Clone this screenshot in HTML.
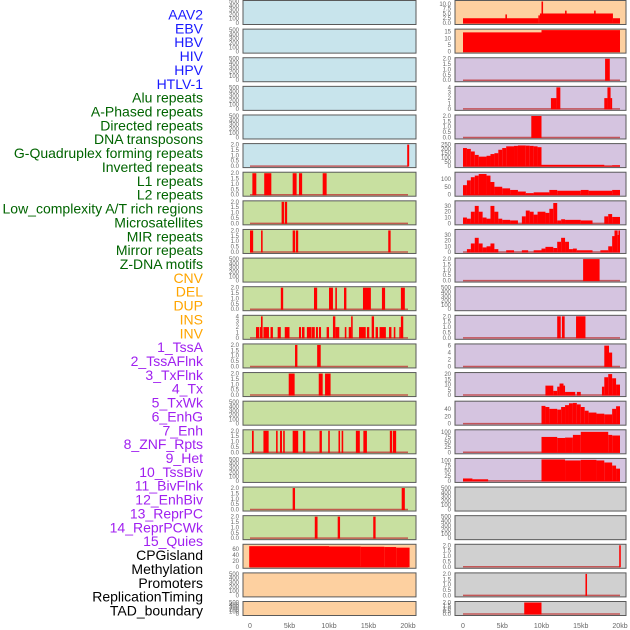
<!DOCTYPE html>
<html><head><meta charset="utf-8">
<style>
html,body{margin:0;padding:0;background:#fff;}
svg{display:block;font-family:"Liberation Sans",sans-serif;}
</style></head>
<body>
<svg id="chart" width="630" height="630" viewBox="0 0 630 630" xmlns="http://www.w3.org/2000/svg"></svg>
<script>
const trackLabels = ["AAV2","EBV","HBV","HIV","HPV","HTLV-1","Alu repeats","A-Phased repeats","Directed repeats","DNA transposons","G-Quadruplex forming repeats","Inverted repeats","L1 repeats","L2 repeats","Low_complexity A/T rich regions","Microsatellites","MIR repeats","Mirror repeats","Z-DNA motifs","CNV","DEL","DUP","INS","INV","1_TssA","2_TssAFlnk","3_TxFlnk","4_Tx","5_TxWk","6_EnhG","7_Enh","8_ZNF_Rpts","9_Het","10_TssBiv","11_BivFlnk","12_EnhBiv","13_ReprPC","14_ReprPCWk","15_Quies","CPGisland","Methylation","Promoters","ReplicationTiming","TAD_boundary"];
const labelGroups = [6,13,5,15,5];
const groupColors = ["#1a1aff","#006400","#ffa500","#a020f0","#000000"];
const xTickKb = [0,5,10,15,20];
const xTickLabels = ["0","5kb","10kb","15kb","20kb"];

const T500=["0","100","200","300","400","500"], T2=["0.0","0.5","1.0","1.5","2.0"];
const leftTicks = [T500,T500,T500,T500,T500,T2,T2,T2,T2,T500,T2,["0","1","2","3","4"],T2,T2,T500,T2,T500,T2,T2,["0","20","40","60"],T500,T500];
const leftMax = [500,500,500,500,500,2,2,2,2,500,2,4,2,2,500,2,500,2,2,73,500,500];
const leftSegs = [
 [],[],[],[],[],
 [[19.9,20.15,2]],
 [[0.3,0.8,2],[1.8,2.7,2],[5.4,5.9,2],[6.2,6.6,2],[9.2,9.7,2]],
 [[4.0,4.3,2],[4.4,4.7,2]],
 [[0,0.4,2],[1.4,1.6,2],[5.4,5.7,2],[5.8,6.1,2],[17.5,17.8,2]],
 [],
 [[3.9,4.2,2],[8.1,8.5,2],[10,10.5,2],[10.8,11,2],[11.9,12.2,2],[14.3,15.3,2],[16.7,17.1,2],[19.1,19.6,2]],
 [[0.76,1.18,2],[1.27,1.39,2],[1.39,1.6,4],[1.7,2.4,2],[2.6,2.9,2],[3.5,3.9,2],[4.4,5.0,2],[6.2,6.46,2],[6.58,6.9,2],[7.2,7.8,2],[7.85,8.2,2],[8.35,8.6,2],[8.73,8.99,2],[9.7,10.0,2],[10.5,10.8,4],[10.8,11.3,2],[12.0,12.2,2],[12.5,12.8,2],[12.8,13.0,4],[13.8,14.65,2],[14.8,15.1,2],[15.4,15.7,4],[15.9,16.2,2],[16.4,17.2,2],[17.6,17.9,2],[18.2,18.4,2],[18.9,19.1,2],[19.1,19.4,4]],
 [[5.7,6.0,2],[8.5,8.95,2]],
 [[4.9,5.65,2],[8.7,9.2,2],[9.5,10.2,2]],
 [],
 [[0.25,0.47,2],[1.7,2.36,2],[3.3,3.5,2],[3.8,4.05,2],[4.2,4.4,2],[5.4,6.1,2],[6.7,7.0,2],[8.8,9.1,2],[9.9,10.1,2],[11.2,11.4,2],[11.6,11.8,2],[13.4,13.9,2],[14.35,14.8,2],[17.7,18.0,2],[18.1,18.5,2]],
 [],
 [[5.4,5.7,2],[19.2,19.6,2]],
 [[8.2,8.55,2],[11.1,11.4,2],[15.6,15.9,2]],
 [[-0.1,10,70],[10,14,69],[14,17,68],[17,18.5,67],[18.5,20.2,65]],
 [],[]
];
const rightTicks = [["0.0","2.5","5.0","7.5","10.0"],["0","5","10","15"],T2,["0","1","2","3","4"],T2,["0","50","100","150","200","250"],["0","50","100"],["0","10","20","30"],["0","10","20","30"],T2,T500,T2,["0","2","4","6"],["0","5","10","15","20"],["0","20","40"],["0","25","50","75","100"],["0","25","50","75","100"],T500,T500,T2,T2,T2];
const rightMax = [11.3,16.2,2,4,2,250,135,37,38,2,500,2,6.2,20.5,58,105,105,500,500,2,2,2];
const rightSegs = [
 [[0,9.6,2.5],[9.6,9.8,4],[9.8,19.1,5],[10.0,10.2,12],[5.4,5.6,4.5],[13.0,13.2,6.5],[16.7,16.9,6.5],[19.1,20.0,2.5]],
 [[0,10,14.5],[10,20,16.2]],
 [[18.1,18.7,2]],
 [[11.2,11.9,2],[11.9,12.4,4],[18.0,18.4,2],[18.4,18.8,4],[18.8,19.0,2]],
 [[8.7,10.0,2]],
 [[0,0.5,210],[0.5,1,200],[1,1.5,170],[1.5,2,130],[2,3,110],[3,3.5,120],[3.5,4,140],[4,4.5,150],[4.5,5,190],[5,5.5,210],[5.5,6.5,230],[6.5,7,235],[7,8,240],[8,8.5,238],[8.5,9,235],[9,9.5,230],[9.5,10,220],[10,18,15],[18,19,5],[19,20,10]],
 [[0,0.5,60],[0.5,1,90],[1,1.5,110],[1.5,2,120],[2,3,130],[3,3.5,120],[3.5,4,80],[4,5,50],[5,6,40],[6,7,30],[7,8,20],[8,9,10],[9,11,15],[11,12,30],[12,15,25],[15,16,30],[16,19,25],[19,20,30]],
 [[0,0.5,10],[0.5,1,8],[1,1.5,20],[1.5,2,30],[2,2.5,20],[2.5,3,10],[3,3.5,8],[3.5,4,30],[4,4.5,20],[4.5,5,8],[5,6,6],[6,7,5],[7.5,8,12],[8,8.5,22],[8.5,9,20],[9,9.5,15],[9.5,10.5,20],[10.5,11,18],[11,11.5,25],[11.5,12,35],[12,12.5,5],[12.5,13,7],[13,15,6],[15,16.5,5],[18,18.5,12],[18.5,19,16],[19,20,11]],
 [[0.5,1,5],[1,1.5,15],[1.5,2,25],[2,2.5,15],[2.5,3,8],[3,3.5,10],[3.5,4,15],[4,4.5,5],[5.5,6.5,3],[7.5,8.3,3],[9,10,3],[10,10.5,6],[10.5,11.5,9],[11.5,12,7],[12,12.5,18],[12.5,13,25],[13,13.5,18],[13.5,14,5],[14,14.5,6],[14.5,16.5,3],[17.5,18.5,3],[18.5,19,10],[19,19.3,28],[19.3,19.7,38],[19.7,19.8,30],[19.8,20,38]],
 [[15.3,17.4,2]],
 [],
 [[12.0,12.45,2],[12.6,12.95,2],[14.4,15.6,2]],
 [[18.0,18.6,6],[18.6,19.0,4]],
 [[10.5,11.5,9],[11.5,12,4],[12,12.3,8],[12.3,12.8,11],[12.8,13,9],[13,14.3,3],[14.5,15,3],[17.7,18,8],[18,18.5,17],[18.5,19,20],[19,19.5,16],[19.5,20,10]],
 [[10,10.5,48],[10.5,11,45],[11,12,40],[12,12.5,38],[12.5,13,45],[13,13.5,50],[13.5,14,55],[14,14.5,56],[14.5,15,52],[15,15.5,45],[15.5,16,35],[16,17,30],[17,18,27],[18,19,25],[19,19.5,40],[19.5,20,47]],
 [[10,12,75],[12,13,70],[13,14,72],[14,15,85],[15,18.5,100],[18.5,19,85],[19,20,82]],
 [[0,1.2,12],[1.2,3.2,8],[10,13,105],[13,15,100],[15,17,103],[17,18,100],[18,19,90],[19,19.5,75],[19.5,20,60]],
 [],[],
 [[19.9,20.1,2]],
 [[15.6,15.8,2]],
 [[7.8,10.0,2]]
];

const NS="http://www.w3.org/2000/svg";
const svg=document.getElementById('chart');
function mk(tag,attrs,parent){const e=document.createElementNS(NS,tag);for(const k in attrs)e.setAttribute(k,attrs[k]);(parent||svg).appendChild(e);return e;}

// labels
let li=0;
labelGroups.forEach((n,g)=>{for(let j=0;j<n;j++){const t=mk('text',{x:203,y:19.5+li*13.86,'text-anchor':'end','font-size':14,fill:groupColors[g]});


t.textContent=trackLabels[li];li++;}});

const leftBg=i=>i<6?"#c8e4ec":(i<19?"#c8e0a0":"#fdd0a0");
const rightBg=i=>i<2?"#fdd0a0":(i<17?"#d5c4e0":"#d0d0d0");
const cols=[{x0:243,x1:416,k0:250,k20:408,tickX:239,ticks:leftTicks,max:leftMax,segs:leftSegs,bg:leftBg,name:'left'},
            {x0:455,x1:626,k0:463,k20:620,tickX:451,ticks:rightTicks,max:rightMax,segs:rightSegs,bg:rightBg,name:'right'}];

cols.forEach(c=>{
  const xs=kb=>c.k0+(c.k20-c.k0)*kb/20;
  for(let i=0;i<22;i++){
    const top=i<21?i*28.62:601, h=i<21?25:15, bot=top+h;
    const g=mk('g',{});
    
    
    const r=mk('rect',{x:c.x0,y:top+0.5,width:c.x1-c.x0,height:h-1,fill:c.bg(i),stroke:'#5a5a5a','stroke-width':1},g);
    
    
    const yTop=top+1.5, yBot=bot-2, mx=c.max[i];
    const ys=v=>yBot-(yBot-yTop)*Math.min(v,mx)/mx;
    c.ticks[i].forEach(tl=>{
      const t=mk('text',{x:c.tickX,y:ys(parseFloat(tl))+2,'text-anchor':'end','font-size':6,fill:'#666'},g);
      
      
      t.textContent=tl;
    });
    const segs=c.segs[i];
    if(segs.length){
      const bl=mk('line',{x1:xs(0),x2:xs(20),y1:yBot,y2:yBot,stroke:'#c03a3a','stroke-width':1.5,opacity:0.8},g);
      
      
    }
    segs.forEach(s=>{
      const x=xs(s[0]), w=Math.max(xs(s[1])-x,1), y=ys(s[2]);
      const b=mk('rect',{x:x,y:y,width:w,height:yBot-y+0.5,fill:'#ff0000'},g);
      
      
    });
  }
  xTickKb.forEach((k,j)=>{
    const t=mk('text',{x:xs(k),y:628,'text-anchor':'middle','font-size':7,fill:'#666'});
    
    
    t.textContent=xTickLabels[j];
  });
});
</script>
</body></html>
